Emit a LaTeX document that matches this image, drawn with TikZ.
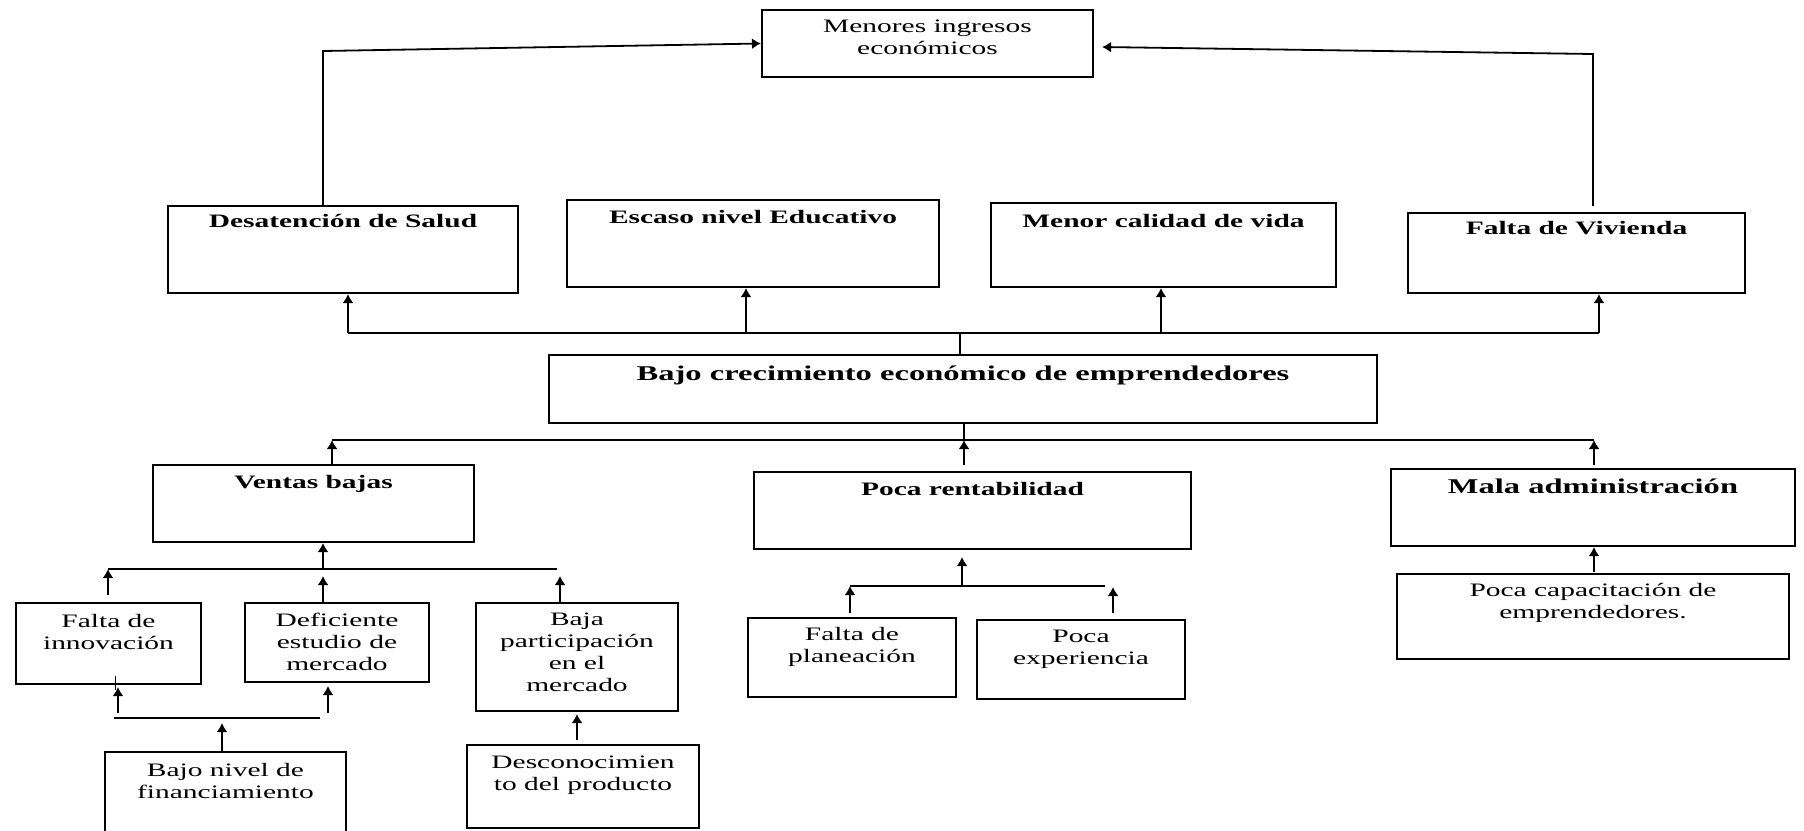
\documentclass[tikz,border=0pt]{standalone}
\usepackage{fontspec}
\setmainfont{Liberation Serif}[FakeStretch=1.55]
\usetikzlibrary{arrows.meta}
\tikzset{
  box/.style={draw, line width=2.1pt, inner sep=0pt, rectangle},
  txt/.style={anchor=north, align=center, inner sep=0pt, font=\fontsize{19}{22}\selectfont},
  boldtxt/.style={txt, font=\fontsize{19}{22}\selectfont\bfseries},
  bigtxt/.style={txt, font=\fontsize{21}{24}\selectfont\bfseries},
  conn/.style={line width=1.8pt},
  arr/.style={conn, -{Latex[length=9pt,width=11pt]}},
}
\begin{document}
\begin{tikzpicture}[x=1pt,y=-1pt]
\useasboundingbox (0,0) rectangle (1804,830);
% boxes
\node[box, minimum width=331pt, minimum height=67pt] (menores) at (927.5,43.5) {};
\node[box, minimum width=350pt, minimum height=87pt] (desat) at (343,249.5) {};
\node[box, minimum width=372pt, minimum height=87pt] (escaso) at (753,243.5) {};
\node[box, minimum width=345pt, minimum height=84pt] (calidad) at (1163.5,245) {};
\node[box, minimum width=337pt, minimum height=80pt] (vivienda) at (1576.5,253) {};
\node[box, minimum width=828pt, minimum height=68pt] (bajo) at (963,389) {};
\node[box, minimum width=321pt, minimum height=77pt] (ventas) at (313.5,503.5) {};
\node[box, minimum width=437pt, minimum height=77pt] (rent) at (972.5,510.5) {};
\node[box, minimum width=404pt, minimum height=77pt] (mala) at (1593,507.5) {};
\node[box, minimum width=185pt, minimum height=81pt] (innov) at (108.5,643.5) {};
\node[box, minimum width=184pt, minimum height=79pt] (defic) at (337,642.5) {};
\node[box, minimum width=202pt, minimum height=108pt] (bajapart) at (577,657) {};
\node[box, minimum width=241pt, minimum height=80pt] (bajonivel) at (225.5,792) {};
\node[box, minimum width=232pt, minimum height=83pt] (descon) at (583,786.5) {};
\node[box, minimum width=208pt, minimum height=79pt] (planea) at (852,657.5) {};
\node[box, minimum width=208pt, minimum height=79pt] (exper) at (1081,659.5) {};
\node[box, minimum width=392pt, minimum height=85pt] (capac) at (1593,616.5) {};
% texts
\node[txt] (menoresT) at ([yshift=-7.6pt]menores.north) {\strut Menores ingresos\\económicos};
\node[boldtxt] (desatT) at ([yshift=-6.6pt]desat.north) {\strut Desatención de Salud};
\node[boldtxt] (escasoT) at ([yshift=-8.6pt]escaso.north) {\strut Escaso nivel Educativo};
\node[boldtxt] (calidadT) at ([yshift=-9.6pt]calidad.north) {\strut Menor calidad de vida};
\node[boldtxt] (viviendaT) at ([yshift=-6.6pt]vivienda.north) {\strut Falta de Vivienda};
\node[bigtxt] (bajoT) at ([yshift=-9.7pt]bajo.north) {\strut Bajo crecimiento económico de emprendedores};
\node[boldtxt] (ventasT) at ([yshift=-8.6pt]ventas.north) {\strut Ventas bajas};
\node[boldtxt] (rentT) at ([yshift=-8.6pt]rent.north) {\strut Poca rentabilidad};
\node[bigtxt] (malaT) at ([yshift=-8.7pt]mala.north) {\strut Mala administración};
\node[txt] (innovT) at ([yshift=-9.6pt]innov.north) {\strut Falta de\\innovación};
\node[txt] (deficT) at ([yshift=-8.6pt]defic.north) {\strut Deficiente\\estudio de\\mercado};
\node[txt] (bajapartT) at ([yshift=-7.6pt]bajapart.north) {\strut Baja\\participación\\en el\\mercado};
\node[txt] (bajonivelT) at ([yshift=-9.6pt]bajonivel.north) {\strut Bajo nivel de\\financiamiento};
\node[txt] (desconT) at ([yshift=-8.6pt]descon.north) {\strut Desconocimien\\to del producto};
\node[txt] (planeaT) at ([yshift=-7.6pt]planea.north) {\strut Falta de\\planeación};
\node[txt] (experT) at ([yshift=-7.6pt]exper.north) {\strut Poca\\experiencia};
\node[txt] (capacT) at ([yshift=-7.6pt]capac.north) {\strut Poca capacitación de\\emprendedores.};
% desat -> menores
\coordinate (aL) at (323,51);
\draw[arr] (aL |- desat.north) -- (aL) -- (menores.west);
% vivienda -> menores
\coordinate (aR) at (1593,54);
\coordinate (vivTop) at ([yshift=6pt]vivienda.north);
\coordinate (menE) at ([xshift=8pt,yshift=-3.5pt]menores.east);
\draw[arr] (vivTop -| aR) -- (aR) -- (menE);
% top bus
\coordinate (tbL) at (348,333);
\coordinate (tbR) at (1599,333);
\coordinate (tbE) at (746,333);
\coordinate (tbC) at (1161,333);
\coordinate (tbB) at (960,333);
\draw[conn] (tbL) -- (tbR);
\draw[arr] (tbL) -- (tbL |- desat.south);
\draw[arr] (tbE) -- (tbE |- escaso.south);
\draw[arr] (tbC) -- (tbC |- calidad.south);
\draw[arr] (tbR) -- (tbR |- vivienda.south);
\draw[conn] (tbB |- bajo.north) -- (tbB);
% lower bus
\coordinate (lbL) at (332,440);
\coordinate (lbR) at (1594,440);
\coordinate (lbM) at (964,440);
\draw[conn] (lbL) -- (lbR);
\draw[conn] (bajo.south -| lbM) -- (lbM);
\draw[arr] (ventas.north -| lbL) -- (lbL);
\coordinate (rentTop) at ([yshift=6pt]rent.north);
\draw[arr] (rentTop -| lbM) -- (lbM);
\coordinate (malaTop) at ([yshift=3pt]mala.north);
\draw[arr] (malaTop -| lbR) -- (lbR);
% ventas sub bus
\coordinate (vbL) at (108,569);
\coordinate (vbR) at (557,569);
\coordinate (vbM) at (323,569);
\draw[conn] (vbL) -- (vbR);
\draw[arr] (vbM) -- (vbM |- ventas.south);
\coordinate (innovTop) at ([yshift=7pt]innov.north);
\draw[arr] (innovTop -| vbL) -- (vbL);
\coordinate (vbD) at (323,576);
\draw[arr] (defic.north -| vbD) -- (vbD);
\coordinate (vbP) at (560,576);
\draw[arr] (bajapart.north -| vbP) -- (vbP);
% innov/defic sub bus
\coordinate (fbL) at (114,718);
\coordinate (fbR) at (320,718);
\draw[conn] (fbL) -- (fbR);
\coordinate (fbIs) at (118,713);
\coordinate (fbI) at (118,687);
\draw[arr] (fbIs) -- (fbI);
\coordinate (tk1) at (115,676);
\coordinate (tk2) at (115,690);
\draw[line width=1pt] (tk1) -- (tk2);
\coordinate (fbDs) at (328,713);
\coordinate (fbD) at (328,686);
\draw[arr] (fbDs) -- (fbD);
\coordinate (fbN) at (222,723);
\draw[arr] (bajonivel.north -| fbN) -- (fbN);
% descon -> bajapart
\coordinate (dpS) at (577,740);
\coordinate (dpT) at (577,714);
\draw[arr] (dpS) -- (dpT);
% rent sub bus
\coordinate (rbL) at (850,586);
\coordinate (rbR) at (1105,586);
\coordinate (rbM) at (962,586);
\draw[conn] (rbL) -- (rbR);
\coordinate (rbMt) at (962,557);
\draw[arr] (rbM) -- (rbMt);
\coordinate (rbLs) at (850,613);
\draw[arr] (rbLs) -- (rbL);
\coordinate (rbRs) at (1113,613);
\coordinate (rbRt) at (1113,587);
\draw[arr] (rbRs) -- (rbRt);
% capac -> mala
\coordinate (cmS) at (1594,572);
\draw[arr] (cmS) -- (cmS |- mala.south);
\end{tikzpicture}
\end{document}
